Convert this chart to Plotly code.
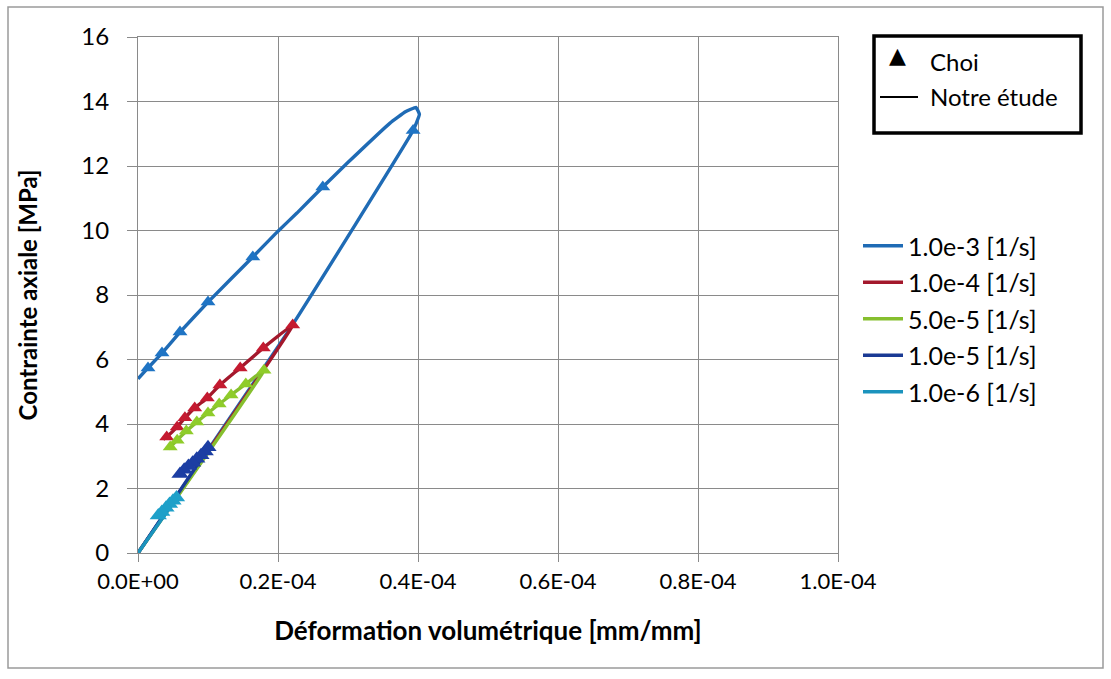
import plotly.graph_objects as go

# ---------------- data ----------------
series_names = ["1.0e-3 [1/s]", "1.0e-4 [1/s]", "5.0e-5 [1/s]", "1.0e-5 [1/s]", "1.0e-6 [1/s]"]
line_colors = ["#1f6bb5", "#a3182c", "#86bf2e", "#1a3a94", "#1b93bd"]
marker_colors = ["#1f74c4", "#c41a30", "#8fcc2a", "#1c3ea3", "#1ea0c9"]

# model curves ("Notre étude"): loading from origin to peak, then relaxation branch
x_1e3 = [0, 2.2e-5, 3.93e-5, 4.02e-5, 3.97e-5, 3.82e-5, 3.6e-5, 2.99e-5, 2.64e-5, 2.27e-5, 2.0e-5,
         1.64e-5, 1.0e-5, 6.0e-6, 3.43e-6, 1.43e-6, 0]
y_1e3 = [0, 7.05, 13.1, 13.6, 13.82, 13.68, 13.33, 12.09, 11.35, 10.54, 9.98,
         9.18, 7.78, 6.85, 6.2, 5.74, 5.4]
x_1e4 = [0, 2.21e-5, 1.79e-5, 1.46e-5, 1.17e-5, 9.9e-6, 8.1e-6, 6.7e-6, 5.6e-6, 4.1e-6, 3.6e-6]
y_1e4 = [0, 7.07, 6.36, 5.74, 5.21, 4.81, 4.50, 4.19, 3.91, 3.60, 3.52]
x_5e5 = [0, 1.8e-5, 1.54e-5, 1.33e-5, 1.16e-5, 1.0e-5, 8.4e-6, 6.9e-6, 5.6e-6, 4.6e-6, 4.3e-6]
y_5e5 = [0, 5.67, 5.24, 4.90, 4.62, 4.34, 4.06, 3.78, 3.50, 3.29, 3.22]
x_1e5 = [0, 1.02e-5, 9.6e-6, 9.0e-6, 8.4e-6, 7.8e-6, 7.2e-6, 6.6e-6, 6.0e-6]
y_1e5 = [0, 3.30, 3.15, 3.03, 2.92, 2.80, 2.70, 2.58, 2.45]
x_1e6 = [0, 5.7e-6, 5.2e-6, 4.6e-6, 4.0e-6, 3.4e-6, 2.8e-6]
y_1e6 = [0, 1.77, 1.65, 1.52, 1.40, 1.27, 1.14]

# Choi experimental points
cx_1e3 = [1.43e-6, 3.43e-6, 6.0e-6, 1.0e-5, 1.64e-5, 2.64e-5, 3.93e-5]
cy_1e3 = [5.74, 6.2, 6.85, 7.78, 9.18, 11.35, 13.1]
cx_1e4 = [2.21e-5, 1.79e-5, 1.46e-5, 1.17e-5, 9.9e-6, 8.1e-6, 6.7e-6, 5.6e-6, 4.1e-6]
cy_1e4 = [7.07, 6.36, 5.74, 5.21, 4.81, 4.50, 4.19, 3.91, 3.60]
cx_5e5 = [1.8e-5, 1.54e-5, 1.33e-5, 1.16e-5, 1.0e-5, 8.4e-6, 6.9e-6, 5.6e-6, 4.6e-6]
cy_5e5 = [5.67, 5.24, 4.90, 4.62, 4.34, 4.06, 3.78, 3.50, 3.29]
cx_1e5 = [1.0e-5, 9.6e-6, 9.0e-6, 8.4e-6, 7.8e-6, 7.2e-6, 6.6e-6, 6.0e-6]
cy_1e5 = [3.28, 3.15, 3.03, 2.92, 2.80, 2.70, 2.58, 2.45]
cx_1e6 = [5.5e-6, 5.0e-6, 4.5e-6, 4.0e-6, 3.4e-6, 2.9e-6]
cy_1e6 = [1.72, 1.62, 1.52, 1.40, 1.27, 1.16]

x_tickvals = [0, 2e-5, 4e-5, 6e-5, 8e-5, 1e-4]
x_ticktext = ["0.0E+00", "0.2E-04", "0.4E-04", "0.6E-04", "0.8E-04", "1.0E-04"]
y_tickvals = [0, 2, 4, 6, 8, 10, 12, 14, 16]

lines = [(x_1e3, y_1e3), (x_1e4, y_1e4), (x_5e5, y_5e5), (x_1e5, y_1e5), (x_1e6, y_1e6)]
choi = [(cx_1e3, cy_1e3), (cx_1e4, cy_1e4), (cx_5e5, cy_5e5), (cx_1e5, cy_1e5), (cx_1e6, cy_1e6)]
marker_sizes = [13, 13, 13, 15, 15]

FONT = "Lato"
fig = go.Figure()

for i, name in enumerate(series_names):
    lx, ly = lines[i]
    mx, my = choi[i]
    fig.add_trace(go.Scatter(x=lx, y=ly, mode="lines", name=name,
                             legendgroup=name,
                             line=dict(color=line_colors[i], width=3.4, shape="spline", smoothing=0.3)))
    fig.add_trace(go.Scatter(x=mx, y=my, mode="markers", name=name, showlegend=False,
                             legendgroup=name,
                             marker=dict(symbol="triangle-up", size=marker_sizes[i], color=marker_colors[i],
                                         line=dict(width=0))))

# plot area in pixels: x 138..838, y 37..553
L, R, T, B = 138, 838, 37, 553
W, H = 1111, 679


def px(xp):
    return (xp - L) / (R - L)


def py(yp):
    return (B - yp) / (B - T)


shapes = [
    # outer chart border
    dict(type="rect", xref="paper", yref="paper", x0=px(8), x1=px(1103), y0=py(668), y1=py(7),
         line=dict(color="#9a9a9a", width=1.5), fillcolor="rgba(0,0,0,0)", layer="below"),
    # Choi / Notre étude box
    dict(type="rect", xref="paper", yref="paper", x0=px(874), x1=px(1081), y0=py(133), y1=py(36),
         line=dict(color="black", width=3.5), fillcolor="white"),
    dict(type="line", xref="paper", yref="paper", x0=px(880), x1=px(918), y0=py(97), y1=py(97),
         line=dict(color="black", width=2)),
]

annotations = [
    dict(text="▲", xref="paper", yref="paper", x=px(897), y=py(56), showarrow=False,
         font=dict(family="DejaVu Sans", size=22, color="black"), xanchor="center", yanchor="middle"),
    dict(text="Choi", xref="paper", yref="paper", x=px(928), y=py(62), showarrow=False,
         font=dict(family=FONT, size=24, color="black"), xanchor="left", yanchor="middle"),
    dict(text="Notre étude", xref="paper", yref="paper", x=px(928), y=py(96), showarrow=False,
         font=dict(family=FONT, size=24, color="black"), xanchor="left", yanchor="middle"),
]

fig.update_layout(
    width=W, height=H,
    margin=dict(l=L, r=W - R, t=T, b=H - B, pad=0),
    paper_bgcolor="white", plot_bgcolor="white",
    font=dict(family=FONT, size=24, color="black"),
    showlegend=True,
    legend=dict(x=px(858), y=py(223), xanchor="left", yanchor="top",
                font=dict(family=FONT, size=25, color="black"),
                tracegroupgap=1, itemwidth=40, bgcolor="rgba(0,0,0,0)"),
    shapes=shapes,
    annotations=annotations,
    xaxis=dict(range=[0, 1e-4], tickvals=x_tickvals, ticktext=x_ticktext,
               showgrid=True, gridcolor="#8a8a8a", gridwidth=1,
               showline=True, linecolor="#8a8a8a", linewidth=1, mirror=True,
               ticks="outside", ticklen=8, tickcolor="#8a8a8a",
               zeroline=False, tickfont=dict(family=FONT, size=22),
               ticklabelstandoff=1,
               title=dict(text="<b>Déformation volumétrique [mm/mm]</b>", font=dict(family=FONT, size=26),
                          standoff=28)),
    yaxis=dict(range=[0, 16], tickvals=y_tickvals,
               showgrid=True, gridcolor="#8a8a8a", gridwidth=1,
               showline=True, linecolor="#8a8a8a", linewidth=1, mirror=True,
               ticks="outside", ticklen=10, tickcolor="#8a8a8a",
               zeroline=False, tickfont=dict(family=FONT, size=24),
               ticklabelstandoff=13,
               title=dict(text="<b>Contrainte axiale [MPa]</b>", font=dict(family=FONT, size=24),
                          standoff=36)),
)

fig.write_html("out.html")
